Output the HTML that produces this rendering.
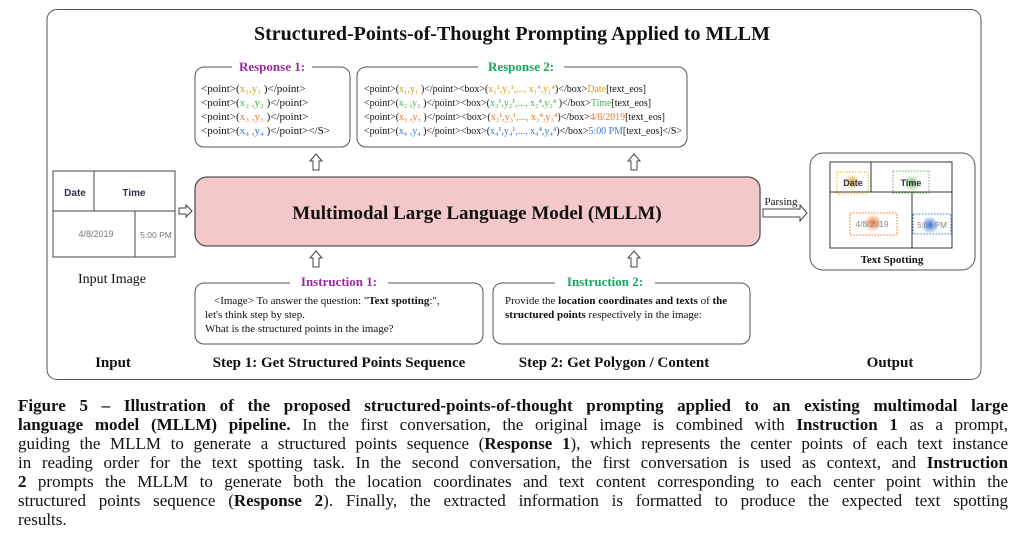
<!DOCTYPE html>
<html><head><meta charset="utf-8"><style>
html,body{margin:0;padding:0;background:#fff;width:1024px;height:534px;overflow:hidden}
svg{position:absolute;left:0;top:0}
text{font-family:"Liberation Serif",serif;fill:#111}
.cap{position:absolute;left:18px;width:990px;top:396px;font-family:"Liberation Serif",serif;font-size:17px;line-height:19px;color:#111}
.cap div{text-align:justify;text-align-last:justify;white-space:nowrap;height:19px}
.cap div.last{text-align-last:left}
.y{fill:#d4a000}.g{fill:#4caf50}.o{fill:#e8742a}.b{fill:#3a78d8}
</style></head><body>
<svg width="1024" height="390" viewBox="0 0 1024 390">
<defs>
<radialGradient id="gy"><stop offset="0" stop-color="#c8a000" stop-opacity=".9"/><stop offset="1" stop-color="#c8a000" stop-opacity="0"/></radialGradient>
<radialGradient id="gg"><stop offset="0" stop-color="#5bb04a" stop-opacity=".9"/><stop offset="1" stop-color="#5bb04a" stop-opacity="0"/></radialGradient>
<radialGradient id="go"><stop offset="0" stop-color="#f06a20" stop-opacity=".9"/><stop offset="1" stop-color="#f06a20" stop-opacity="0"/></radialGradient>
<radialGradient id="gb"><stop offset="0" stop-color="#2f6be0" stop-opacity=".95"/><stop offset="1" stop-color="#2f6be0" stop-opacity="0"/></radialGradient>
</defs>
<rect x="47" y="9.5" width="934" height="370" rx="10" fill="none" stroke="#555" stroke-width="1"/>
<text x="512" y="40" text-anchor="middle" font-size="20" font-weight="bold">Structured-Points-of-Thought Prompting Applied to MLLM</text>

<rect x="195" y="67" width="155" height="80" rx="9" fill="none" stroke="#555"/>
<rect x="232" y="60" width="80" height="14" fill="#fff"/>
<text x="272" y="71" text-anchor="middle" font-size="13" font-weight="bold" style="fill:#9b2aa0">Response 1:</text>
<g font-size="11">
<text x="201" y="92">&lt;point&gt;(<tspan class="y">x₁,y₁</tspan> )&lt;/point&gt;</text>
<text x="201" y="106">&lt;point&gt;(<tspan class="g">x₂ ,y₂</tspan> )&lt;/point&gt;</text>
<text x="201" y="120">&lt;point&gt;(<tspan class="o">x₃ ,y₃</tspan> )&lt;/point&gt;</text>
<text x="201" y="134">&lt;point&gt;(<tspan class="b">x₄ ,y₄</tspan> )&lt;/point&gt;&lt;/S&gt;</text>
</g>

<rect x="357" y="67" width="330" height="80" rx="9" fill="none" stroke="#555"/>
<rect x="478" y="60" width="86" height="14" fill="#fff"/>
<text x="521" y="71" text-anchor="middle" font-size="13" font-weight="bold" style="fill:#1aa560">Response 2:</text>
<g font-size="11">
<text x="364" y="92" textLength="282" lengthAdjust="spacingAndGlyphs">&lt;point&gt;(<tspan class="y">x₁,y₁</tspan> )&lt;/point&gt;&lt;box&gt;(<tspan class="y">x₁¹,y₁¹,..., x₁⁴,y₁⁴</tspan>)&lt;/box&gt;<tspan class="y">Date</tspan>[text_eos]</text>
<text x="364" y="106" textLength="287" lengthAdjust="spacingAndGlyphs">&lt;point&gt;(<tspan class="g">x₂ ,y₂</tspan> )&lt;/point&gt;&lt;box&gt;(<tspan class="g">x₂¹,y₂¹,..., x₂⁴,y₂⁴</tspan> )&lt;/box&gt;<tspan class="g">Time</tspan>[text_eos]</text>
<text x="364" y="120" textLength="301" lengthAdjust="spacingAndGlyphs">&lt;point&gt;(<tspan class="o">x₃ ,y₃</tspan> )&lt;/point&gt;&lt;box&gt;(<tspan class="o">x₃¹,y₃¹,..., x₃⁴,y₃⁴</tspan>)&lt;/box&gt;<tspan class="o">4/8/2019</tspan>[text_eos]</text>
<text x="364" y="134" textLength="318" lengthAdjust="spacingAndGlyphs">&lt;point&gt;(<tspan class="b">x₄ ,y₄</tspan> )&lt;/point&gt;&lt;box&gt;(<tspan class="b">x₄¹,y₄¹,..., x₄⁴,y₄⁴</tspan>)&lt;/box&gt;<tspan class="b">5:00 PM</tspan>[text_eos]&lt;/S&gt;</text>
</g>

<g fill="#fff" stroke="#444" stroke-width="1">
<path d="M316 154 L322 161 L319 161 L319 170 L313 170 L313 161 L310 161 Z"/>
<path d="M634 154 L640 161 L637 161 L637 170 L631 170 L631 161 L628 161 Z"/>
<path d="M316 251 L322 258 L319 258 L319 267 L313 267 L313 258 L310 258 Z"/>
<path d="M634 251 L640 258 L637 258 L637 267 L631 267 L631 258 L628 258 Z"/>
<path d="M179 208 L186 208 L186 205 L192 211 L186 217 L186 214 L179 214 Z"/>
<path d="M763 209 L800 209 L800 205 L807 213 L800 221 L800 217 L763 217 Z"/>
</g>
<text x="781" y="205" text-anchor="middle" font-size="11">Parsing</text>

<rect x="195" y="177" width="565" height="69" rx="12" fill="#f4c8c8" stroke="#555" stroke-width="1.3"/>
<text x="477" y="219" text-anchor="middle" font-size="19" font-weight="bold">Multimodal Large Language Model (MLLM)</text>

<g stroke="#444" stroke-width="1" fill="none">
<rect x="53" y="171" width="122" height="86" fill="#fff"/>
<line x1="53" y1="211" x2="175" y2="211"/>
<line x1="94" y1="171" x2="94" y2="211"/>
<line x1="135" y1="211" x2="135" y2="257"/>
</g>
<text x="75" y="196" text-anchor="middle" font-size="10" font-weight="bold" style="font-family:'Liberation Sans',sans-serif;fill:#33334a">Date</text>
<text x="134" y="196" text-anchor="middle" font-size="10" font-weight="bold" style="font-family:'Liberation Sans',sans-serif;fill:#33334a">Time</text>
<text x="96" y="237" text-anchor="middle" font-size="9" style="font-family:'Liberation Sans',sans-serif;fill:#777">4/8/2019</text>
<text x="156" y="238" text-anchor="middle" font-size="8.5" style="font-family:'Liberation Sans',sans-serif;fill:#777">5:00 PM</text>
<text x="112" y="283" text-anchor="middle" font-size="14">Input Image</text>

<rect x="810" y="153" width="165" height="117" rx="13" fill="none" stroke="#555"/>
<g stroke="#333" fill="none">
<rect x="830" y="162" width="122" height="86"/>
<line x1="830" y1="192" x2="952" y2="192"/>
<line x1="871" y1="162" x2="871" y2="192"/>
<line x1="912" y1="192" x2="912" y2="248"/>
</g>
<circle cx="852" cy="182" r="8" fill="url(#gy)"/>
<circle cx="912" cy="183" r="8" fill="url(#gg)"/>
<circle cx="873" cy="223" r="9" fill="url(#go)"/>
<circle cx="930" cy="225" r="9" fill="url(#gb)"/>
<text x="853" y="186" text-anchor="middle" font-size="9" font-weight="bold" style="font-family:'Liberation Sans',sans-serif;fill:#33334a">Date</text>
<text x="911" y="186" text-anchor="middle" font-size="9" font-weight="bold" style="font-family:'Liberation Sans',sans-serif;fill:#33334a">Time</text>
<text x="872" y="227" text-anchor="middle" font-size="8.5" style="font-family:'Liberation Sans',sans-serif;fill:#888">4/8/2019</text>
<text x="932" y="228" text-anchor="middle" font-size="8" style="font-family:'Liberation Sans',sans-serif;fill:#888">5:00 PM</text>
<g fill="none" stroke-width="1" stroke-dasharray="1.5,1.5">
<rect x="837" y="172" width="31" height="22" stroke="#e8b800"/>
<rect x="893" y="171" width="36" height="22" stroke="#5bb04a"/>
<rect x="850" y="213" width="47" height="22" stroke="#e8742a"/>
<rect x="913" y="214" width="38" height="20" stroke="#3a78d8"/>
</g>
<text x="892" y="263" text-anchor="middle" font-size="11" font-weight="bold">Text Spotting</text>

<rect x="195" y="283" width="288" height="61" rx="9" fill="none" stroke="#555"/>
<rect x="290" y="276" width="98" height="14" fill="#fff"/>
<text x="339" y="286" text-anchor="middle" font-size="13" font-weight="bold" style="fill:#9b2aa0">Instruction 1:</text>
<g font-size="11">
<text x="214" y="304">&lt;Image&gt; To answer the question: "<tspan font-weight="bold">Text spotting</tspan>:",</text>
<text x="205" y="318">let's think step by step.</text>
<text x="205" y="332">What is the structured points in the image?</text>
</g>
<rect x="493" y="283" width="257" height="61" rx="9" fill="none" stroke="#555"/>
<rect x="555" y="276" width="100" height="14" fill="#fff"/>
<text x="605" y="286" text-anchor="middle" font-size="13" font-weight="bold" style="fill:#1aa560">Instruction 2:</text>
<g font-size="11">
<text x="505" y="304">Provide the <tspan font-weight="bold">location coordinates and texts</tspan> of <tspan font-weight="bold">the</tspan></text>
<text x="505" y="318"><tspan font-weight="bold">structured points</tspan> respectively  in the image:</text>
</g>

<g font-size="15" font-weight="bold">
<text x="113" y="367" text-anchor="middle">Input</text>
<text x="339" y="367" text-anchor="middle">Step 1: Get Structured Points Sequence</text>
<text x="614" y="367" text-anchor="middle">Step 2: Get Polygon / Content</text>
<text x="890" y="367" text-anchor="middle">Output</text>
</g>
</svg>
<div class="cap">
<div><b>Figure 5 – Illustration of the proposed structured-points-of-thought prompting applied to an existing multimodal large</b></div>
<div><b>language model (MLLM) pipeline.</b> In the first conversation, the original image is combined with <b>Instruction 1</b> as a prompt,</div>
<div>guiding the MLLM to generate a structured points sequence (<b>Response 1</b>), which represents the center points of each text instance</div>
<div>in reading order for the text spotting task. In the second conversation, the first conversation is used as context, and <b>Instruction</b></div>
<div><b>2</b> prompts the MLLM to generate both the location coordinates and text content corresponding to each center point within the</div>
<div>structured points sequence (<b>Response 2</b>). Finally, the extracted information is formatted to produce the expected text spotting</div>
<div class="last">results.</div>
</div>
</body></html>
